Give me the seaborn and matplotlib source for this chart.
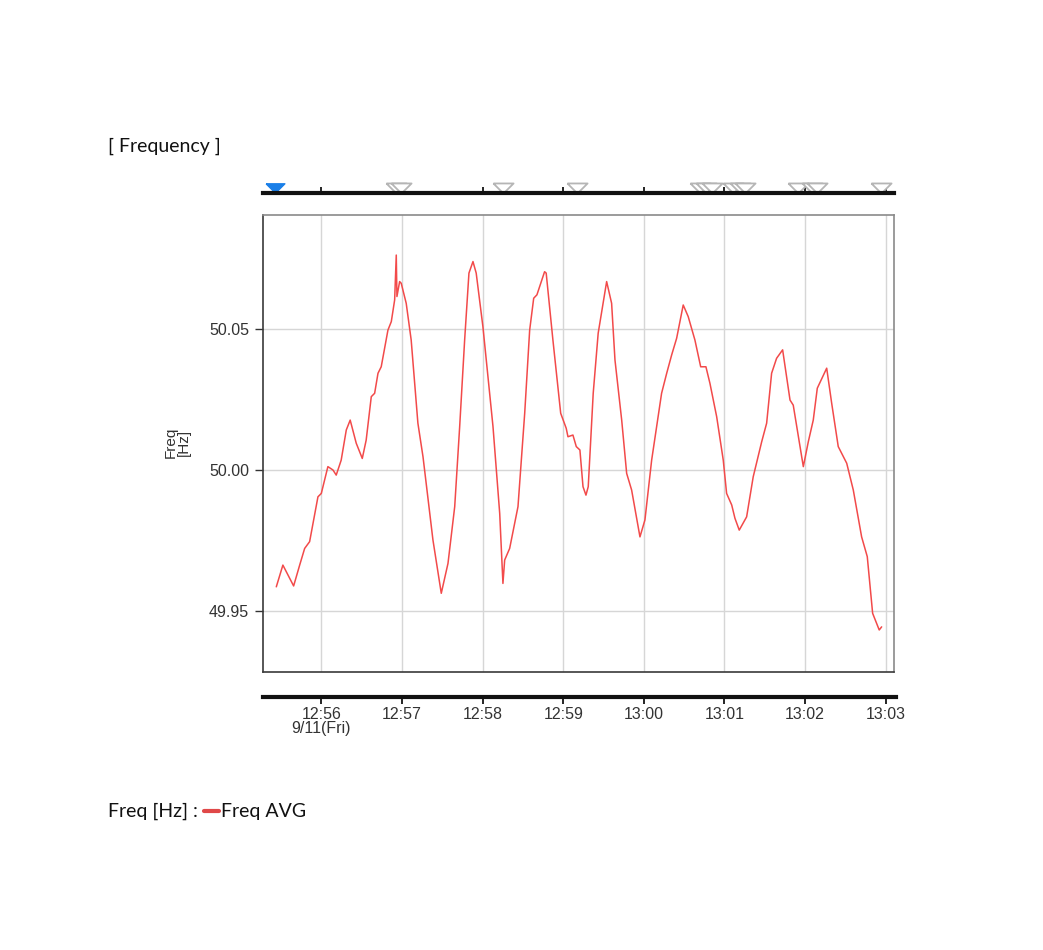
import pandas as pd
import numpy as np
import seaborn as sns
import matplotlib.pyplot as plt
from matplotlib.lines import Line2D

# seconds after 12:55:00 on 2020-09-11, and Freq AVG [Hz]
secs = [26.4, 31.3, 39.3, 43.8, 47.5, 51.2, 57.4, 59.9, 64.8, 68.6, 71.0, 74.7,
        78.5, 81.4, 85.9, 90.4, 93.3, 97.1, 99.6, 102.1, 104.5, 109.5, 112.0, 114.5,
        115.7, 116.2, 118.2, 119.4, 123.1, 126.8, 131.8, 135.6, 143.0, 149.2, 154.2,
        159.2, 162.9, 166.6, 169.8, 172.8, 175.2, 180.2, 187.7, 192.7, 195.1, 196.4,
        200.1, 206.3, 211.3, 215.0, 218.0, 220.4, 226.1, 227.3, 232.3, 238.1, 242.2,
        243.5, 247.2, 249.7, 252.4, 254.7, 256.9, 258.6, 262.3, 266.0, 272.3, 276.0,
        278.5, 283.5, 287.2, 290.9, 297.1, 300.8, 305.8, 313.2, 317.0, 320.7, 324.4,
        329.3, 333.0, 338.0, 342.3, 346.2, 349.2, 354.2, 359.1, 361.6, 365.4, 367.8,
        371.0, 376.5, 381.4, 387.7, 391.4, 395.1, 398.8, 403.3, 408.8, 411.2, 418.7,
        422.4, 426.1, 429.1, 436.1, 439.8, 444.7, 451.0, 455.9, 462.1, 466.3, 470.3,
        475.2, 477.0]
freq = [49.9586, 49.9663, 49.9589, 49.9663, 49.9722, 49.9746, 49.9905, 49.9917,
        50.0012, 50.0000, 49.9982, 50.0035, 50.0142, 50.0177, 50.0095, 50.0041,
        50.0106, 50.0260, 50.0272, 50.0343, 50.0366, 50.0496, 50.0526, 50.0603,
        50.0762, 50.0615, 50.0668, 50.0662, 50.0591, 50.0461, 50.0166, 50.0047,
        49.9752, 49.9563, 49.9669, 49.9870, 50.0154, 50.0461, 50.0698, 50.0739,
        50.0698, 50.0508, 50.0154, 49.9846, 49.9598, 49.9681, 49.9722, 49.9870,
        50.0201, 50.0496, 50.0609, 50.0621, 50.0703, 50.0698, 50.0461, 50.0201,
        50.0148, 50.0118, 50.0124, 50.0083, 50.0071, 49.9941, 49.9911, 49.9941,
        50.0272, 50.0485, 50.0668, 50.0591, 50.0390, 50.0177, 49.9988, 49.9929,
        49.9763, 49.9823, 50.0035, 50.0272, 50.0343, 50.0408, 50.0467, 50.0585,
        50.0544, 50.0461, 50.0366, 50.0366, 50.0307, 50.0189, 50.0035, 49.9917,
        49.9876, 49.9829, 49.9787, 49.9834, 49.9976, 50.0100, 50.0166, 50.0343,
        50.0396, 50.0426, 50.0248, 50.0230, 50.0012, 50.0100, 50.0177, 50.0290,
        50.0361, 50.0237, 50.0083, 50.0024, 49.9929, 49.9763, 49.9693, 49.9492,
        49.9433, 49.9444]

# event markers on the top strip (seconds after 12:55:00)
event_secs = [115.5, 119.2, 195.1, 250.2, 341.8, 346.2, 350.7, 366.3, 371.5,
              375.3, 414.7, 425.2, 428.9, 476.5]
start_mark_sec = 25.4

tick_times = ["12:56", "12:57", "12:58", "12:59", "13:00", "13:01", "13:02", "13:03"]
tick_labels = ["12:56\n9/11(Fri)", "12:57", "12:58", "12:59", "13:00", "13:01", "13:02", "13:03"]
y_ticks = [49.95, 50.00, 50.05]

base = pd.Timestamp("2020-09-11 12:55:00")
df = pd.DataFrame({"time": base + pd.to_timedelta(secs, unit="s"), "Freq AVG": freq})
ticks = [pd.Timestamp("2020-09-11 " + t) for t in tick_times]
xlim = (base + pd.Timedelta(seconds=16.5), base + pd.Timedelta(seconds=486.2))

sns.set_style("white")
plt.rcParams['font.family'] = ['Liberation Sans', 'DejaVu Sans']

W, H = 1043, 950
fig = plt.figure(figsize=(W / 100, H / 100), dpi=100)

def box(l, t, r, b):
    return [l / W, 1 - b / H, (r - l) / W, (b - t) / H]

# main chart
ax = fig.add_axes(box(263, 215, 894, 672))
sns.lineplot(data=df, x="time", y="Freq AVG", ax=ax, color="#f24a4a", linewidth=1.1)
ax.set_xlim(xlim)
ax.set_ylim(49.9284, 50.0904)
ax.set_xticks(ticks)
ax.set_yticks(y_ticks)
ax.set_yticklabels([f"{v:.2f}" for v in y_ticks], fontsize=11.5, color="#333333")
ax.tick_params(axis="x", length=0, labelbottom=False)
ax.tick_params(axis="y", length=6, width=1, color="#333333", pad=4, left=True)
ax.grid(True, color="#d6d6d6", linewidth=1)
ax.set_xlabel("")
ax.set_ylabel("")
for side in ["left", "bottom"]:
    ax.spines[side].set_color("#3a3a3a")
for side in ["top", "right"]:
    ax.spines[side].set_color("#8a8a8a")
for s in ax.spines.values():
    s.set_linewidth(1.2)
    s.set_visible(True)

fig.text(177 / W, 1 - 442 / H, "Freq\n[Hz]", rotation=90, ha="center", va="center",
         fontsize=11, color="#333333", linespacing=0.95)

# top event strip
tri = [(-1, 0.5), (1, 0.5), (0, -0.5), (-1, 0.5)]
axt = fig.add_axes(box(263, 175, 894, 193))
axt.set_xlim(xlim)
axt.set_ylim(0, 1)
axt.plot([base + pd.Timedelta(seconds=s) for s in event_secs], [0.28] * len(event_secs),
         linestyle="none", marker=tri, markersize=14.5, markerfacecolor="white",
         markeredgecolor="#b5b5b5", markeredgewidth=1.3, clip_on=False)
axt.plot([base + pd.Timedelta(seconds=start_mark_sec)], [0.28], linestyle="none",
         marker=tri, markersize=13.5, markerfacecolor="#1a7fe8",
         markeredgecolor="#1a7fe8", clip_on=False)
axt.set_xticks(ticks)
axt.set_yticks([])
axt.tick_params(axis="x", direction="in", length=4, width=1.2, color="black",
                labelbottom=False, bottom=True)
for side in ["left", "right", "top"]:
    axt.spines[side].set_visible(False)
axt.spines["bottom"].set_linewidth(3)
axt.spines["bottom"].set_color("#111111")
axt.patch.set_alpha(0)

# bottom time axis
axb = fig.add_axes(box(263, 690, 896, 697))
axb.set_xlim(xlim[0], xlim[1] + pd.Timedelta(seconds=1.5))
axb.set_xticks(ticks)
axb.set_xticklabels(tick_labels, fontsize=11.5, color="#333333", linespacing=0.95)
axb.set_yticks([])
axb.tick_params(axis="x", direction="out", length=5, width=1.2, color="black",
                pad=2, bottom=True)
for side in ["left", "right", "top"]:
    axb.spines[side].set_visible(False)
axb.spines["bottom"].set_linewidth(3)
axb.spines["bottom"].set_color("#111111")
axb.patch.set_alpha(0)

# title and legend text
fig.text(108 / W, 1 - 146 / H, "[ Frequency ]", fontsize=14, family="Lato",
         ha="left", va="center", color="#111111")
fig.text(108 / W, 1 - 811 / H, "Freq [Hz] :", fontsize=14, family="Lato",
         ha="left", va="center", color="#111111")
fig.add_artist(Line2D([204 / W, 219 / W], [1 - 811 / H, 1 - 811 / H],
                      color="#e04848", linewidth=3, transform=fig.transFigure))
fig.text(221 / W, 1 - 811 / H, "Freq AVG", fontsize=14, family="Lato",
         ha="left", va="center", color="#111111")

fig.savefig("out.png", dpi=100)
